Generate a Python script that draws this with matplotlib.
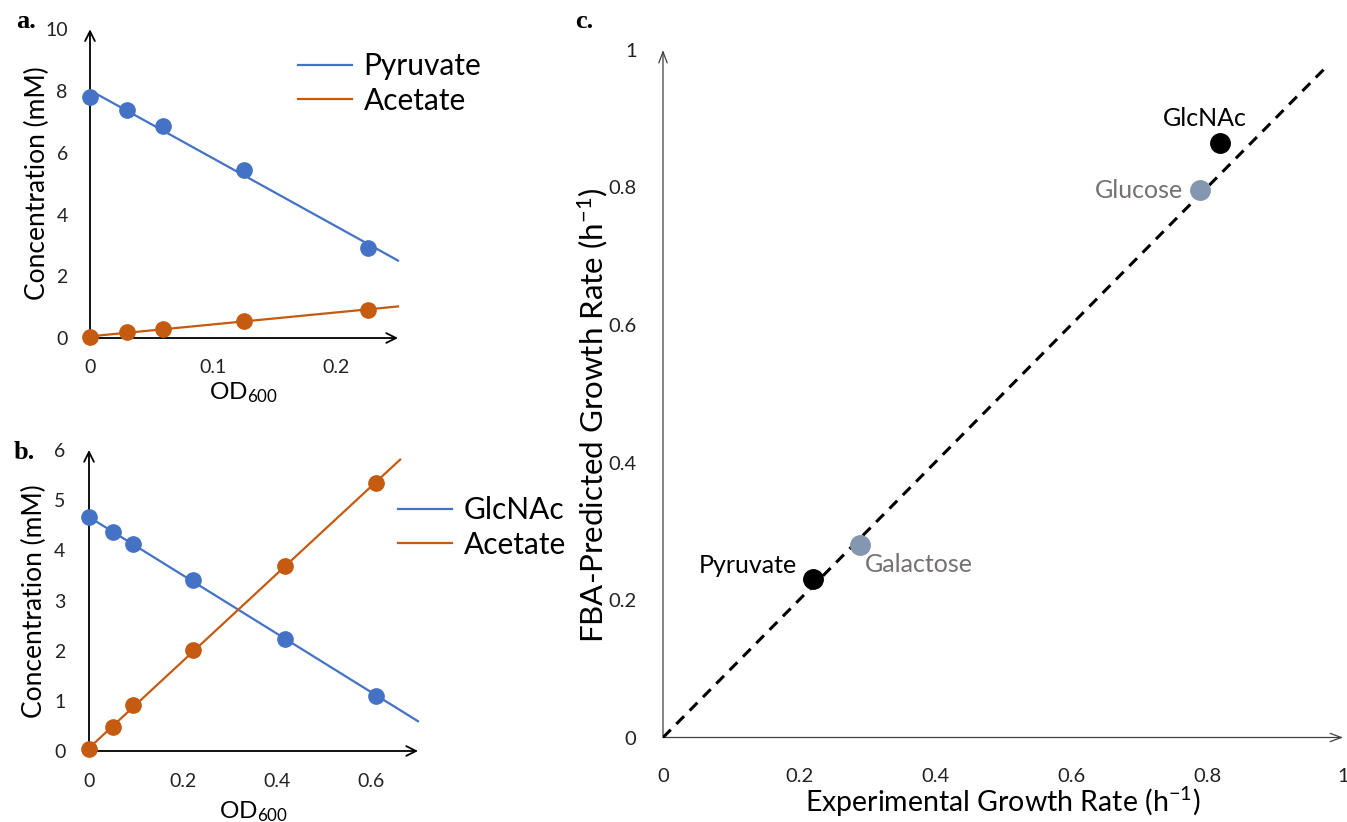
import numpy as np
import matplotlib
matplotlib.use("Agg")
import matplotlib.pyplot as plt
from matplotlib.lines import Line2D

plt.rcParams['font.family'] = ['Lato', 'DejaVu Sans']
plt.rcParams['mathtext.fontset'] = 'custom'
plt.rcParams['mathtext.rm'] = 'Lato'
plt.rcParams['mathtext.it'] = 'Lato:italic'
plt.rcParams['mathtext.bf'] = 'Lato:bold'

# ---------------- data ----------------
# panel a
a_od = [0.0, 0.030, 0.059, 0.1246, 0.226]
a_pyruvate = [7.82, 7.39, 6.87, 5.43, 2.91]
a_acetate = [0.02, 0.19, 0.30, 0.54, 0.92]
a_xticks = [0, 0.1, 0.2]
a_xticklabels = ["0", "0.1", "0.2"]
a_yticks = [0, 2, 4, 6, 8, 10]
a_trend_end = [0.25, 0.25]

# panel b
b_od = [0.0, 0.051, 0.093, 0.221, 0.418, 0.611]
b_glcnac = [4.66, 4.36, 4.12, 3.40, 2.24, 1.10]
b_acetate = [0.03, 0.47, 0.91, 2.01, 3.69, 5.35]
b_xticks = [0, 0.2, 0.4, 0.6]
b_xticklabels = ["0", "0.2", "0.4", "0.6"]
b_yticks = [0, 1, 2, 3, 4, 5, 6]
b_trend_end = [0.70, 0.662]

# panel c
c_names = ["Pyruvate", "Galactose", "Glucose", "GlcNAc"]
c_experimental = [0.220, 0.290, 0.790, 0.819]
c_predicted = [0.230, 0.280, 0.796, 0.865]
c_ticks = [0, 0.2, 0.4, 0.6, 0.8, 1]
c_ticklabels = ["0", "0.2", "0.4", "0.6", "0.8", "1"]
c_identity_end = 0.976

BLUE = "#4472C4"
ORANGE = "#C55A11"
GREYBLUE = "#8497B0"
GREYTXT = "#767171"

W, H = 1347, 822
fig = plt.figure(figsize=(W / 100, H / 100), dpi=100)


def px_axes(x0, x1, ytop, ybot):
    return fig.add_axes([x0 / W, 1 - ybot / H, (x1 - x0) / W, (ybot - ytop) / H])


def ftext(x, y, s, **kw):
    return fig.text(x / W, 1 - y / H, s, ha="center", va="center", **kw)


def arrow_axes(ax, lw=1.3, color="black", hw=0.35, hl=0.7):
    for spine in ax.spines.values():
        spine.set_visible(False)
    style = f"->,head_length={hl},head_width={hw}"
    ax.annotate("", xy=(0, 1.0), xytext=(0, 0), xycoords="axes fraction",
                arrowprops=dict(arrowstyle=style, lw=lw, color=color,
                                shrinkA=0, shrinkB=0), zorder=1)
    ax.annotate("", xy=(1.0, 0), xytext=(0, 0), xycoords="axes fraction",
                arrowprops=dict(arrowstyle=style, lw=lw, color=color,
                                shrinkA=0, shrinkB=0), zorder=1)


def trend(ax, x, y, xend, color):
    k, b = np.polyfit(x, y, 1)
    xs = np.array([0.0, xend])
    ax.plot(xs, k * xs + b, color=color, lw=1.6, zorder=2, clip_on=False)


LEG_KW = dict(loc="upper left", frameon=False, fontsize=21.5, handlelength=1.8,
              handletextpad=0.4, borderpad=0, borderaxespad=0, labelspacing=0.22)

# ---------------- panel a ----------------
axa = px_axes(90, 398, 29.3, 338)
axa.set_xlim(0, 0.25)
axa.set_ylim(0, 10)
arrow_axes(axa)
trend(axa, a_od, a_pyruvate, a_trend_end[0], BLUE)
trend(axa, a_od, a_acetate, a_trend_end[1], ORANGE)
axa.plot(a_od, a_pyruvate, "o", color=BLUE, ms=11, zorder=3, clip_on=False)
axa.plot(a_od, a_acetate, "o", color=ORANGE, ms=11, zorder=3, clip_on=False)
axa.set_xticks(a_xticks)
axa.set_xticklabels(a_xticklabels)
axa.set_yticks(a_yticks)
axa.tick_params(length=0, labelsize=14, colors="#222222")
axa.tick_params(axis="x", pad=15)
axa.tick_params(axis="y", pad=16)
ftext(244, 393, "OD$_{600}$", fontsize=17.5)
ftext(37, 183, "Concentration (mM)", fontsize=19, rotation=90)
leg_a = [Line2D([], [], color=BLUE, lw=1.6), Line2D([], [], color=ORANGE, lw=1.6)]
fig.legend(leg_a, ["Pyruvate", "Acetate"], bbox_to_anchor=(298 / W, 1 - 52 / H), **LEG_KW)

# ---------------- panel b ----------------
axb = px_axes(89, 418, 450, 751)
axb.set_xlim(0, 0.7)
axb.set_ylim(0, 6)
arrow_axes(axb)
trend(axb, b_od, b_glcnac, b_trend_end[0], BLUE)
trend(axb, b_od, b_acetate, b_trend_end[1], ORANGE)
axb.plot(b_od, b_glcnac, "o", color=BLUE, ms=11, zorder=3, clip_on=False)
axb.plot(b_od, b_acetate, "o", color=ORANGE, ms=11, zorder=3, clip_on=False)
axb.set_xticks(b_xticks)
axb.set_xticklabels(b_xticklabels)
axb.set_yticks(b_yticks)
axb.tick_params(length=0, labelsize=14, colors="#222222")
axb.tick_params(axis="x", pad=16)
axb.tick_params(axis="y", pad=17)
ftext(254, 812, "OD$_{600}$", fontsize=17.5)
ftext(34, 601, "Concentration (mM)", fontsize=19, rotation=90)
leg_b = [Line2D([], [], color=BLUE, lw=1.6), Line2D([], [], color=ORANGE, lw=1.6)]
fig.legend(leg_b, ["GlcNAc", "Acetate"], bbox_to_anchor=(398 / W, 1 - 496 / H), **LEG_KW)

# ---------------- panel c ----------------
axc = px_axes(663, 1343, 50, 737.5)
axc.set_xlim(0, 1)
axc.set_ylim(0, 1)
arrow_axes(axc, lw=0.9, color="#404040", hw=0.3, hl=0.8)
axc.plot([0, c_identity_end], [0, c_identity_end], color="black", lw=2.2,
         dashes=(3.6, 2.6), zorder=2)
c_colors = ["black", GREYBLUE, GREYBLUE, "black"]
c_txtcolors = ["black", GREYTXT, GREYTXT, "black"]
c_offsets = [(-16, 14), (5, -20), (-17, 0), (-15, 24)]
c_ha = ["right", "left", "right", "center"]
for name, xv, yv, col, tcol, off, ha in zip(c_names, c_experimental, c_predicted,
                                          c_colors, c_txtcolors, c_offsets, c_ha):
    axc.plot([xv], [yv], "o", color=col, ms=14, zorder=3)
    axc.annotate(name, (xv, yv), xytext=off, textcoords="offset pixels",
                 ha=ha, va="center", fontsize=18, color=tcol)
axc.set_xticks(c_ticks)
axc.set_xticklabels(c_ticklabels)
axc.set_yticks(c_ticks)
axc.set_yticklabels(c_ticklabels)
axc.tick_params(length=0, labelsize=14.5, colors="#222222")
axc.tick_params(axis="x", pad=22)
axc.tick_params(axis="y", pad=19)
ftext(1003, 802, "Experimental Growth Rate (h$^{-1}$)", fontsize=20.5)
ftext(593, 415, "FBA-Predicted Growth Rate (h$^{-1}$)", fontsize=22.5, rotation=90)

# panel labels
for lab, (x, y) in zip(["a.", "b.", "c."], [(26, 22), (24, 452), (584, 22)]):
    ftext(x, y, lab, fontsize=19, fontweight="bold",
          family=["Liberation Serif", "DejaVu Serif"])

fig.savefig("out.png", dpi=100)
